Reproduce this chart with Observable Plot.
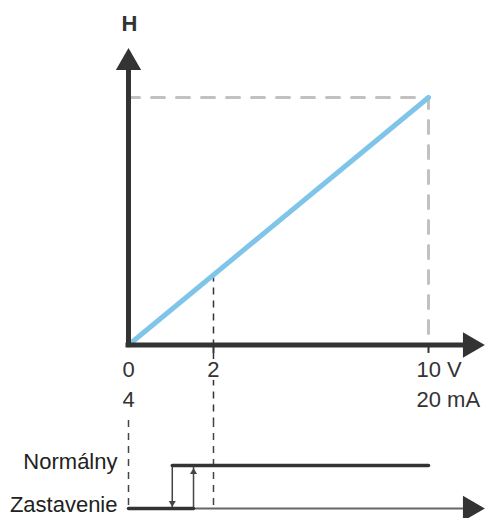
<!DOCTYPE html>
<html>
<head>
<meta charset="utf-8">
<script src="https://cdn.jsdelivr.net/npm/d3@7"></script>
<script src="https://cdn.jsdelivr.net/npm/@observablehq/plot@0.6"></script>
<style>
  html, body { margin: 0; padding: 0; background: #fff; }
  #chart svg { display: block; }
</style>
</head>
<body>
<div id="chart"></div>
<script>
// ---- data ----
const xTicks = [0, 2, 10];                 // input signal ticks (V)
const voltLabels = ["0", "2", "10 V"];
const currentLabels = ["4", "", "20 mA"];
const inputValues = [0, 10];               // input signal
const hValues = [0, 10];                   // output H
const hMax = 10;
const markerX = 2;                         // dashed marker at 2 V
const hAtMarker = 2.83;                    // H where the marker meets the line
const xAxisEnd = 12.1;                     // end of the x axis arrow
const hAxisEnd = 12;                       // end of the H axis arrow
const hLabel = "H";
const states = ["Zastavenie", "Normálny"];
const switchOn = 1.53;                     // switch Zastavenie -> Normálny
const switchOff = 1.03;                    // switch Normálny -> Zastavenie

// ---- styles ----
const dark = "#333333";
const blue = "#7fc4e9";
const lightGray = "#c4c0bd";
const font = "Liberation Sans, Arial, sans-serif";
const fs = 22;

// schematic (non-uniform) spacing of the input axis, as drawn in the original
const warp = d3.scaleLinear().domain(xTicks).range([0, 2.833, 10]);
const xScale = {type: "linear", domain: [0, 10], range: [128, 428], transform: warp};

const linePts = inputValues.map((x, i) => ({x, h: hValues[i]}));
const guidePts = [{x: 0, h: hMax}, {x: inputValues[1], h: hMax}, {x: inputValues[1], h: 0}];
const ticks = xTicks.map((x, i) => ({x, v: voltLabels[i], c: currentLabels[i]}));
const halo = {stroke: "white", strokeWidth: 6, paintOrder: "stroke"};

const upper = Plot.plot({
  width: 485,
  height: 420,
  marginTop: 0,
  marginBottom: 75.5,
  style: {fontFamily: font, fontSize: fs + "px", color: dark, background: "white"},
  x: {...xScale, axis: null},
  y: {domain: [0, hMax], range: [344.5, 97], axis: null},
  marks: [
    Plot.ruleX(xTicks.slice(1), {y1: 0, y2: -0.34, stroke: dark, strokeWidth: 2}),
    Plot.line(guidePts, {x: "x", y: "h", stroke: lightGray, strokeWidth: 3, strokeDasharray: "13,12", strokeDashoffset: 2}),
    Plot.ruleX([markerX], {y1: hAtMarker, y2: -3.2, stroke: dark, strokeWidth: 1.5, strokeDasharray: "7,6"}),
    Plot.line(linePts, {x: "x", y: "h", stroke: blue, strokeWidth: 5}),
    Plot.ruleX([0], {y1: 0, y2: hAxisEnd - 0.8, stroke: dark, strokeWidth: 5, strokeLinecap: "square"}),
    Plot.ruleY([0], {x1: 0, x2: xAxisEnd - 0.8, stroke: dark, strokeWidth: 5, strokeLinecap: "square"}),
    Plot.dot([{x: 0, h: hAxisEnd}], {x: "x", y: "h", symbol: "triangle", r: 9.4, fill: dark, dy: 14.7}),
    Plot.dot([{x: xAxisEnd, h: 0}], {x: "x", y: "h", symbol: "triangle", r: 9.4, fill: dark, rotate: 90, dx: -14.7}),
    Plot.text([{x: 0, h: hAxisEnd}], {x: "x", y: "h", text: () => hLabel, fontWeight: "bold", fontSize: fs, fill: dark, dy: -24, dx: 1}),
    Plot.text(ticks.slice(0, 2), {x: "x", y: () => 0, text: "v", fill: dark, fontSize: fs, dy: 25, ...halo}),
    Plot.text(ticks.slice(2), {x: "x", y: () => 0, text: "v", fill: dark, fontSize: fs, dy: 25, textAnchor: "start", dx: -12}),
    Plot.text(ticks.slice(0, 2), {x: "x", y: () => 0, text: "c", fill: dark, fontSize: fs, dy: 55}),
    Plot.text(ticks.slice(2), {x: "x", y: () => 0, text: "c", fill: dark, fontSize: fs, dy: 55, textAnchor: "start", dx: -12})
  ]
});

const lower = Plot.plot({
  width: 485,
  height: 98,
  marginTop: 0,
  marginBottom: 10,
  style: {fontFamily: font, fontSize: fs + "px", color: dark, background: "white"},
  x: {...xScale, axis: null},
  y: {type: "point", domain: states, range: [88, 45], padding: 0, axis: null},
  marks: [
    Plot.ruleX(xTicks.slice(0, 2), {stroke: "#444", strokeWidth: 1.5, strokeDasharray: "7,6"}),
    Plot.ruleY([states[0]], {x1: 0, x2: xAxisEnd - 0.8, stroke: "#666", strokeWidth: 2}),
    Plot.dot([{x: xAxisEnd, s: states[0]}], {x: "x", y: "s", symbol: "triangle", r: 9.4, fill: dark, rotate: 90, dx: -14.7}),
    Plot.line([{x: switchOn, s: states[0]}, {x: switchOn, s: states[1]}], {x: "x", y: "s", stroke: "#444", strokeWidth: 1.5}),
    Plot.line([{x: switchOff, s: states[1]}, {x: switchOff, s: states[0]}], {x: "x", y: "s", stroke: "#444", strokeWidth: 1.5}),
    Plot.dot([{x: switchOn, s: states[1]}], {x: "x", y: "s", symbol: "triangle", r: 2.6, fill: "#444", dy: 6.5}),
    Plot.dot([{x: switchOff, s: states[0]}], {x: "x", y: "s", symbol: "triangle", r: 2.6, fill: "#444", rotate: 180, dy: -5.6}),
    Plot.line([{x: 0, s: states[0]}, {x: switchOn, s: states[0]}], {x: "x", y: "s", stroke: dark, strokeWidth: 3.5}),
    Plot.line([{x: switchOff, s: states[1]}, {x: inputValues[1], s: states[1]}], {x: "x", y: "s", stroke: dark, strokeWidth: 3.5}),
    Plot.text(states, {x: () => 0, y: d => d, text: d => d, textAnchor: "end", dx: -11, dy: -4, fill: "#222", fontSize: fs})
  ]
});

const root = document.getElementById("chart");
root.appendChild(upper);
root.appendChild(lower);
</script>
</body>
</html>
